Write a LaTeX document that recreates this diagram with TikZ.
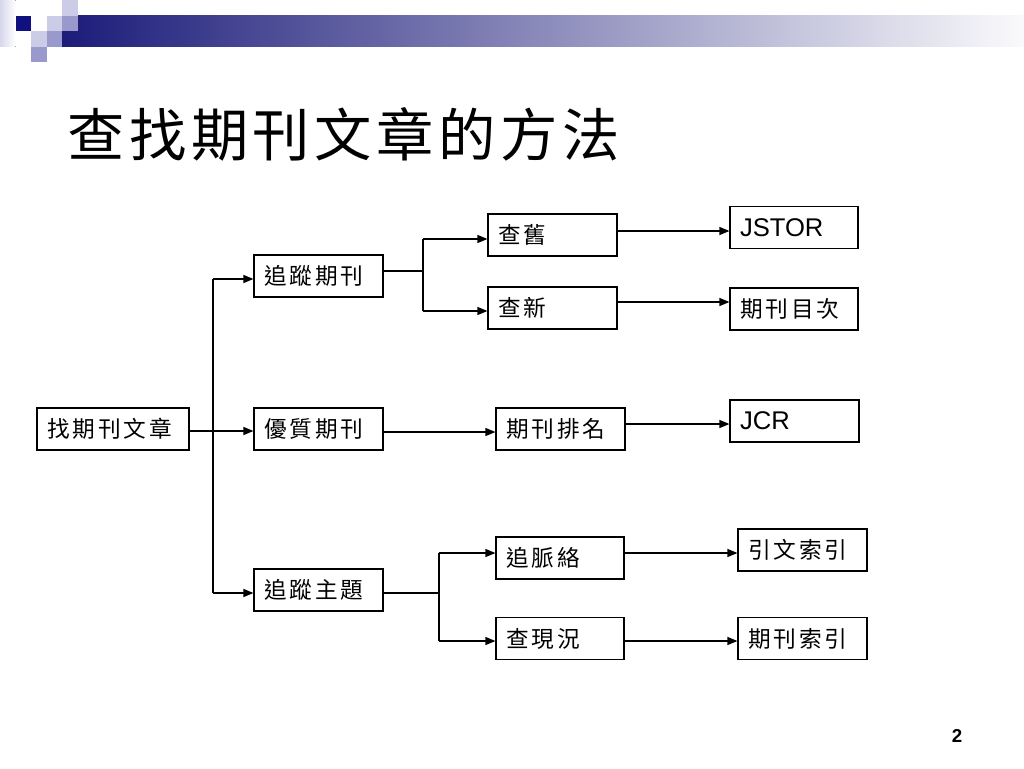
\documentclass[tikz,border=0pt]{standalone}
\usepackage{fontspec}
\setmainfont{Liberation Sans}
\newfontfamily\cjk{Noto Sans CJK TC}
\newfontfamily\cjkbox[LetterSpace=13]{Noto Sans CJK TC}
\newfontfamily\cjktitle[LetterSpace=8]{Noto Sans CJK TC}
\usetikzlibrary{arrows.meta}
\definecolor{navyc}{RGB}{16,16,128}
\definecolor{lavl}{RGB}{204,204,232}
\definecolor{lavm}{RGB}{153,153,204}
\definecolor{barl}{RGB}{28,28,122}
\definecolor{barm}{RGB}{160,160,186}
\definecolor{barr}{RGB}{250,250,252}
\begin{document}
\begin{tikzpicture}[x=0.75pt,y=-0.75pt,
  box/.style={draw=black, line width=0.9pt, minimum height=31.5pt, inner xsep=7.5pt, inner ysep=0pt, align=left, font=\cjkbox\fontsize{17pt}{20pt}\selectfont},
  latin/.style={font=\fontsize{19.2pt}{22pt}\selectfont},
  w152/.style={text width=99pt},
  w129/.style={text width=81.75pt},
  w128/.style={text width=81pt},
  arr/.style={line width=1pt, -{Triangle[length=7.5pt,width=6pt]}},
  ln/.style={line width=1pt}]
\useasboundingbox (0,0) rectangle (1024,768);
\fill[white] (0,0) rectangle (1024,768);
% header decoration
\fill[left color=barl, middle color=barm, right color=barr] (62,15.5) rectangle (1024,46);
\fill[left color=lavl!80, right color=white] (0,0) rectangle (15.5,46.5);
\fill[lavl] (62,0) rectangle (77.5,15.5);
\fill[navyc] (15.5,15.5) rectangle (31,31);
\fill[lavl] (46.5,15.5) rectangle (62,31);
\fill[lavm] (62,15.5) rectangle (77.5,31);
\fill[lavl] (31,31) rectangle (46.5,46.5);
\fill[lavm] (46.5,31) rectangle (62,46.5);
\fill[lavm] (31,46.5) rectangle (46.5,62);
% title
\node[anchor=west, font=\cjktitle\fontsize{43pt}{48pt}\selectfont, inner sep=0pt] (title) at (67,134) {查找期刊文章的方法};
% page number
\node[font=\bfseries\fontsize{14pt}{16pt}\selectfont, inner sep=0pt] (pg) at (957,736) {2};
% boxes
\node[box,w152] (A) at (113,429) {找期刊文章};
\node[box,w129] (B) at (318.5,276) {追蹤期刊};
\node[box,w129] (C) at (318.5,429) {優質期刊};
\node[box,w129] (D) at (318.5,590) {追蹤主題};
\node[box,w129] (E) at (552.5,235) {查舊};
\node[box,w129] (F) at (552.5,308) {查新};
\node[box,w128,latin] (G) at (794,227.5) {JSTOR};
\node[box,w128] (H) at (794,309) {期刊目次};
\node[box,w129,latin] (I) at (794.5,421) {JCR};
\node[box,w129] (J) at (560.5,429) {期刊排名};
\node[box,w128] (K) at (560,558) {追脈絡};
\node[box,w128] (L) at (560,638.5) {查現況};
\node[box,w129] (M) at (802.5,550) {引文索引};
\node[box,w129] (N) at (802.5,638.5) {期刊索引};
% trunk
\coordinate (tB) at (213,279);
\coordinate (tD) at (213,593);
\draw[arr] (A.east |- 0,431) -- (C.west |- 0,431);
\draw[ln] (tB) -- (tD);
\draw[arr] (tB) -- (tB -| B.west);
\draw[arr] (tD) -- (tD -| D.west);
% branch 1
\coordinate (b1) at (423,271);
\coordinate (b1t) at (423,239);
\coordinate (b1b) at (423,311);
\draw[ln] (B.east |- b1) -- (b1);
\draw[ln] (b1t) -- (b1b);
\draw[arr] (b1t) -- (b1t -| E.west);
\draw[arr] (b1b) -- (b1b -| F.west);
\draw[arr] (E.east |- 0,231) -- (G.west |- 0,231);
\draw[arr] (F.east |- 0,302) -- (H.west |- 0,302);
% middle
\draw[arr] (C.east |- 0,432) -- (J.west |- 0,432);
\draw[arr] (J.east |- 0,424) -- (I.west |- 0,424);
% branch 2
\coordinate (b2) at (439,593);
\coordinate (b2t) at (439,553);
\coordinate (b2b) at (439,641);
\draw[ln] (D.east |- b2) -- (b2);
\draw[ln] (b2t) -- (b2b);
\draw[arr] (b2t) -- (b2t -| K.west);
\draw[arr] (b2b) -- (b2b -| L.west);
\draw[arr] (K.east |- 0,553) -- (M.west |- 0,553);
\draw[arr] (L.east |- 0,641) -- (N.west |- 0,641);
\end{tikzpicture}
\end{document}
